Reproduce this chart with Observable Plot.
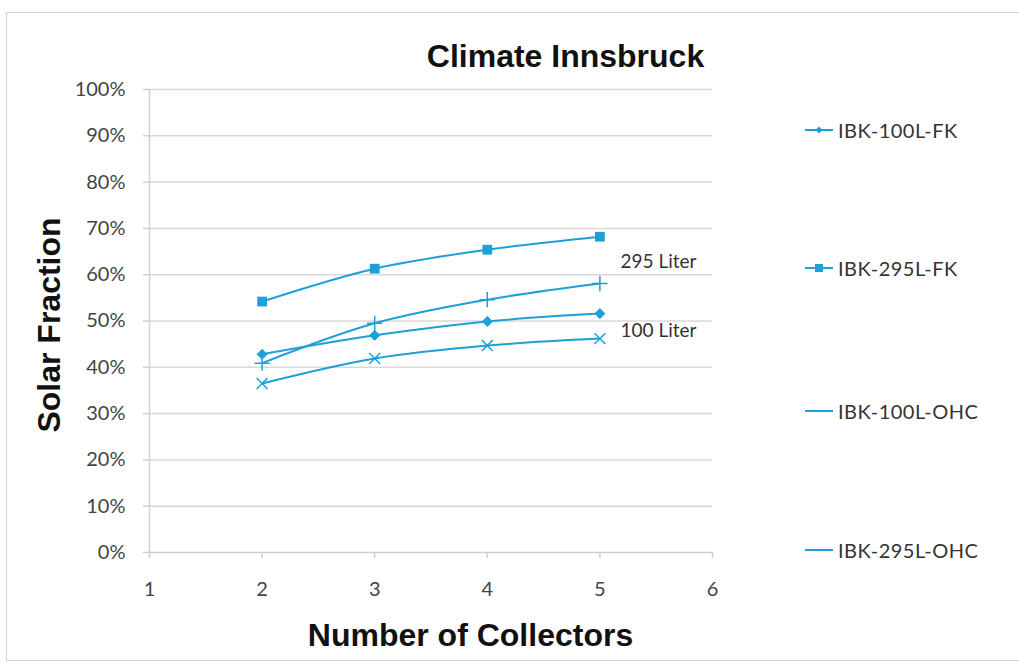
<!DOCTYPE html>
<html><head><meta charset="utf-8">
<script src="https://cdn.jsdelivr.net/npm/d3@7"></script>
<script src="https://cdn.jsdelivr.net/npm/@observablehq/plot@0.6"></script>
<style>
body{margin:0;background:#fff;}
#wrap{position:relative;width:1019px;height:664px;overflow:hidden;background:#fff;}
#border{position:absolute;left:6px;top:12px;width:1030px;height:647px;border:1.5px solid #d4d4d4;}
#chart{position:absolute;left:0;top:0;}
.leg{position:absolute;left:804px;height:24px;font:20px Lato, sans-serif;letter-spacing:0.5px;color:#333;display:flex;align-items:center;white-space:nowrap;}
.leg svg{margin-right:4px;}
</style></head><body>
<div id="wrap"><div id="border"></div><div id="chart"></div><div id="legend"></div></div>
<script>
const collectors = [2, 3, 4, 5];
const seriesNames = ["IBK-100L-FK", "IBK-295L-FK", "IBK-100L-OHC", "IBK-295L-OHC"];
const ibk100FK  = [42.8, 46.9, 49.9, 51.6];
const ibk295FK  = [54.2, 61.3, 65.4, 68.2];
const ibk100OHC = [36.5, 41.9, 44.7, 46.2];
const ibk295OHC = [40.9, 49.5, 54.6, 58.1];
const xTicks = [1, 2, 3, 4, 5, 6];
const yTicks = [0, 10, 20, 30, 40, 50, 60, 70, 80, 90, 100];
const annoLabels = ["295 Liter", "100 Liter"];
const annoX = [5.52, 5.52];
const annoY = [62.7, 47.8];
const titleText = "Climate Innsbruck";
const xLabel = "Number of Collectors";
const yLabel = "Solar Fraction";

const seriesValues = [ibk100FK, ibk295FK, ibk100OHC, ibk295OHC];
const rows = [];
seriesNames.forEach((s, k) => collectors.forEach((c, i) => rows.push({series: s, x: c, y: seriesValues[k][i]})));
const anno = annoLabels.map((t, i) => ({label: t, x: annoX[i], y: annoY[i]}));
const color = "#1e9fd9";
const axisGray = "#cfcfcf";
const of = s => rows.filter(d => d.series === s);
const boldFont = "Liberation Sans, Arial, sans-serif";

const plot = Plot.plot({
  width: 1019, height: 664,
  marginLeft: 149, marginRight: 307, marginTop: 89, marginBottom: 112,
  style: {fontFamily: "Lato, sans-serif", background: "transparent", overflow: "visible"},
  x: {domain: [1, 6], ticks: xTicks},
  y: {domain: [0, 100], ticks: yTicks},
  marks: [
    Plot.gridY(yTicks.filter(d => d > 0), {stroke: "#d9d9d9", strokeOpacity: 1, strokeWidth: 1.5}),
    Plot.axisY({ticks: yTicks, tickFormat: d => d + "%", tickSize: 6, tickPadding: 18, fontSize: 20, fill: "#444", stroke: axisGray, strokeWidth: 1.5, label: null}),
    Plot.axisX({ticks: xTicks, tickFormat: d => d, tickSize: 6, tickPadding: 23, fontSize: 20, fill: "#444", stroke: axisGray, strokeWidth: 1.5, label: null}),
    Plot.ruleX([1], {stroke: axisGray, strokeWidth: 1.5}),
    Plot.ruleY([0], {stroke: axisGray, strokeWidth: 1.5}),
    Plot.line(rows, {x: "x", y: "y", z: "series", stroke: color, strokeWidth: 2, curve: "catmull-rom"}),
    Plot.dot(of(seriesNames[0]), {x: "x", y: "y", symbol: "diamond2", r: 4.5, fill: color, stroke: color, strokeWidth: 1}),
    Plot.dot(of(seriesNames[1]), {x: "x", y: "y", symbol: "square", r: 5.5, fill: color}),
    Plot.dot(of(seriesNames[2]), {x: "x", y: "y", symbol: "times", r: 5, stroke: color, strokeWidth: 1.5}),
    Plot.dot(of(seriesNames[3]), {x: "x", y: "y", symbol: "plus", r: 5, stroke: color, strokeWidth: 1.5}),
    Plot.text(anno, {x: "x", y: "y", text: "label", fontSize: 19, fill: "#333"}),
    Plot.text([titleText], {frameAnchor: "top", lineAnchor: "middle", dx: 134.5, dy: -33, fontSize: 32, fontWeight: "bold", fontFamily: boldFont, fill: "#111"}),
    Plot.text([yLabel], {frameAnchor: "left", textAnchor: "middle", dx: -100, dy: 4, rotate: -90, fontSize: 32, fontWeight: "bold", fontFamily: boldFont, fill: "#111"}),
    Plot.text([xLabel], {frameAnchor: "bottom", lineAnchor: "middle", dx: 39.5, dy: 83, fontSize: 32, fontWeight: "bold", fontFamily: boldFont, fill: "#111", style: "word-spacing:4px"})
  ]
});
document.getElementById("chart").appendChild(plot);

const legTops = [130, 268, 411, 550];
const legMarkers = ["diamond", "square", null, null];
const legend = document.getElementById("legend");
seriesNames.forEach((s, i) => {
  const div = document.createElement("div");
  div.className = "leg";
  div.style.top = (legTops[i] - 12) + "px";
  let marker = "";
  if (legMarkers[i] === "diamond") marker = `<path d="M15,2.5 L18.5,6 L15,9.5 L11.5,6 Z" fill="${color}"/>`;
  if (legMarkers[i] === "square") marker = `<rect x="11" y="2" width="8" height="8" fill="${color}"/>`;
  div.innerHTML = `<svg width="30" height="12"><line x1="1" y1="6" x2="29" y2="6" stroke="${color}" stroke-width="2"/>${marker}</svg><span>${s}</span>`;
  legend.appendChild(div);
});
</script>
</body></html>
